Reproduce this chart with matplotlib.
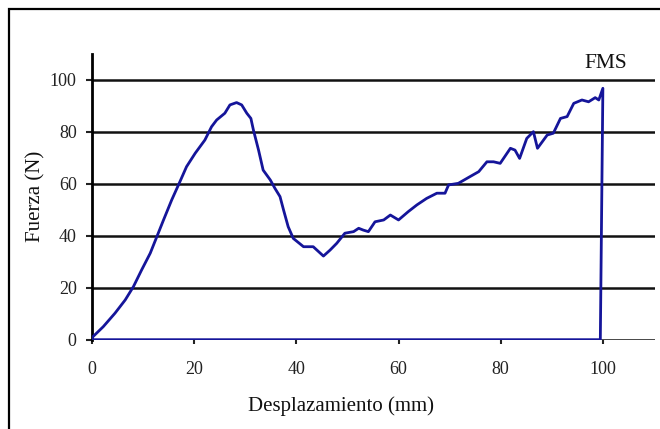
import matplotlib
matplotlib.use("Agg")
import matplotlib.pyplot as plt
from matplotlib.patches import Rectangle

plt.rcParams['font.family'] = ['Liberation Serif', 'DejaVu Serif']

# curva fuerza-desplazamiento
desplazamiento = [0.0, 2.2, 4.5, 6.5, 8.1, 9.7, 11.4, 12.7, 14.0, 15.6, 17.2,
                  18.5, 20.2, 22.1, 23.4, 24.4, 26.0, 27.0, 28.3, 29.3, 30.3,
                  31.1, 31.6, 32.6, 33.5, 34.9, 35.8, 36.8, 37.5, 38.4, 39.4,
                  41.4, 43.3, 45.3, 46.6, 47.9, 49.5, 51.2, 52.2, 53.1, 54.1,
                  55.4, 57.1, 58.4, 60.0, 61.9, 63.6, 65.5, 67.5, 69.1, 69.8,
                  71.7, 74.0, 75.7, 77.3, 78.6, 79.9, 81.9, 82.8, 83.7, 85.1,
                  86.4, 87.2, 89.1, 90.3, 91.7, 93.0, 94.3, 95.9, 97.2, 98.5,
                  99.2, 100.0, 99.5, 0.0]
fuerza = [0.8, 5.0, 10.2, 15.3, 20.4, 26.8, 33.3, 39.7, 46.1, 53.8, 60.8,
          66.6, 71.8, 76.9, 82.0, 84.6, 87.2, 90.4, 91.3, 90.4, 87.2,
          85.2, 80.7, 73.0, 65.3, 61.5, 58.3, 55.1, 49.9, 43.5, 39.0,
          35.8, 35.8, 32.2, 34.5, 37.1, 41.0, 41.6, 42.9, 42.2, 41.6,
          45.4, 46.1, 48.0, 46.1, 49.3, 51.9, 54.4, 56.4, 56.4, 59.6,
          60.2, 62.8, 64.7, 68.5, 68.5, 67.9, 73.7, 73.0, 69.8, 77.5,
          80.1, 73.7, 78.8, 79.5, 85.2, 85.9, 91.0, 92.3, 91.6, 93.2,
          92.3, 96.8, 0.0, 0.0]

x_ticks = [0, 20, 40, 60, 80, 100]
y_ticks = [0, 20, 40, 60, 80, 100]

fig = plt.figure(figsize=(6.6, 4.29), dpi=100)
ax = fig.add_axes([0.1394, 0.2082, 0.8530, 0.6659])

# marco exterior
fig.patches.append(Rectangle((9 / 660, -0.1), 1.2, 420 / 429 + 0.1,
                             transform=fig.transFigure, fill=False,
                             edgecolor='black', linewidth=1.6, clip_on=False))

for yv in y_ticks:
    ax.axhline(yv, color='#111111', linewidth=1.8, zorder=1)

ax.plot(desplazamiento, fuerza, color='#15159a', linewidth=2.0, zorder=3)

ax.set_xlim(0, 110.2)
ax.set_ylim(0, 110)
ax.set_xticks(x_ticks)
ax.set_yticks(y_ticks)

for s in ['top', 'right', 'bottom']:
    ax.spines[s].set_visible(False)
ax.spines['left'].set_linewidth(2)
ax.tick_params(axis='y', length=4, width=1.5, colors='#222222', labelsize=13, pad=7)
ax.tick_params(axis='x', length=3, width=1.5, colors='#222222', labelsize=13, pad=12)

ax.set_xlabel('Desplazamiento (mm)', fontsize=15, color='#111111')
ax.xaxis.set_label_coords(0.442, -0.197)
ax.set_ylabel('Fuerza (N)', fontsize=15, color='#111111')
ax.yaxis.set_label_coords(-0.082, 0.5)

ax.text(100.5, 106.5, 'FMS', fontsize=15.5, ha='center', va='center', color='#111111')

fig.savefig('out.png', dpi=100)
